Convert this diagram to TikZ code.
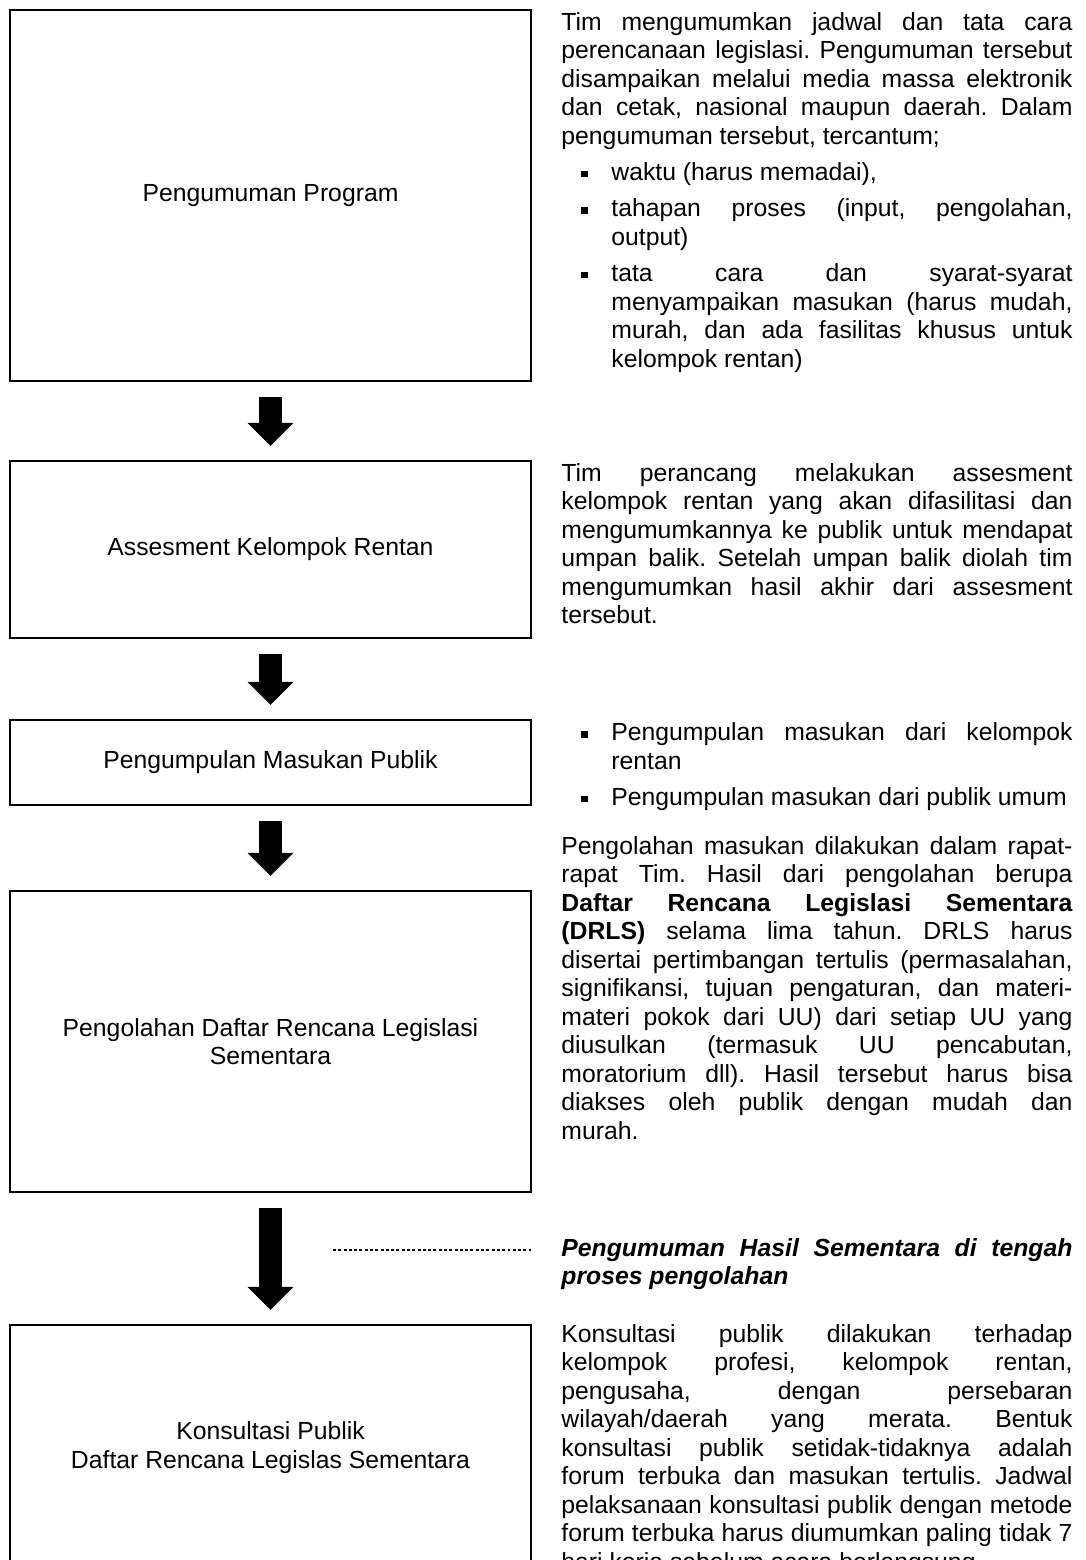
\documentclass[tikz,border=0pt]{standalone}
\usepackage{fontspec}
\setmainfont{Liberation Sans}
\usetikzlibrary{arrows.meta}

\newcommand{\isi}{\fontsize{11pt}{12.65pt}\selectfont\frenchspacing}
\newcommand{\aturpar}{\parindent=0pt\tolerance=9999\hbadness=10000\hyphenpenalty=10000\exhyphenpenalty=10000}
\newcommand{\butir}[1]{\par\vspace{3.5pt}{\leftskip=22.2pt\noindent\llap{\raisebox{1.5pt}{\rule{2.8pt}{2.8pt}}\hspace{10.5pt}}\strut#1\par}}

\begin{document}
\begin{tikzpicture}[x = 0.4444pt, y = -0.4444pt,
        kotak/.style = {draw, line width = 1.1pt, minimum width = 231.5pt, inner sep = 0pt, align = center, font = \isi},
        teks/.style = {anchor = north west, inner sep = 0pt, text width = 227.1pt, align = justify, font = \isi\aturpar},
        panah/.style = {line width = 9.8pt, -{Triangle[width = 20.4pt, length = 10.2pt, line width = 0pt]}, shorten <= 6.7pt, shorten >= 6.2pt},
        garistitik/.style = {line width = 1.1pt, dash pattern = on 1.3pt off 1.05pt}]
        \useasboundingbox (0, 0) rectangle (1085, 1560);
        \clip (0, 0) rectangle (1085, 1560);
        \node [kotak, minimum height = 164.9pt] (b1) at (270.5, 195.5) {Pengumuman Program};
        \node [kotak, minimum height = 78.7pt] (b2) at (270.5, 549.5) {Assesment Kelompok Rentan};
        \node [kotak, minimum height = 37.8pt] (b3) at (270.5, 762.5) {Pengumpulan Masukan Publik};
        \node [kotak, minimum height = 133.8pt] (b4) at (270.5, 1041.5) {Pengolahan Daftar Rencana Legislasi\\Sementara};
        \node [kotak, minimum height = 108.9pt] (b5) at (270.5, 1447.5) {Konsultasi Publik\\Daftar Rencana Legislas Sementara};
        \draw [panah] (b1) -- (b2);
        \draw [panah] (b2) -- (b3);
        \draw [panah] (b3) -- (b4);
        \draw [panah] (b4) -- (b5);
        \coordinate (titikA) at (333, 1250);
        \coordinate (titikB) at (531, 1250);
        \draw [garistitik] (titikA) -- (titikB);
        \node [teks] (p1) at (561, 10) {\strut Tim mengumumkan jadwal dan tata cara\linebreak perencanaan legislasi. Pengumuman tersebut\linebreak disampaikan melalui media massa elektronik\linebreak dan cetak, nasional maupun daerah. Dalam\linebreak pengumuman tersebut, tercantum;
            \butir{waktu (harus memadai),}
            \butir{tahapan proses (input, pengolahan,\linebreak output)}
            \butir{tata cara dan syarat-syarat\linebreak menyampaikan masukan (harus mudah,\linebreak murah, dan ada fasilitas khusus untuk\linebreak kelompok rentan)}};
        \node [teks] (p2) at (561, 461) {\strut Tim perancang melakukan assesment\linebreak kelompok rentan yang akan difasilitasi dan\linebreak mengumumkannya ke publik untuk mendapat\linebreak umpan balik. Setelah umpan balik diolah tim\linebreak mengumumkan hasil akhir dari assesment\linebreak tersebut.};
        \node [teks] (p3) at (561, 712) {\vspace{-3.5pt}
            \butir{Pengumpulan masukan dari kelompok\linebreak rentan}
            \butir{Pengumpulan masukan dari publik umum}};
        \node [teks] (p4) at (561, 834) {\strut Pengolahan masukan dilakukan dalam rapat-\linebreak rapat Tim. Hasil dari pengolahan berupa\linebreak \textbf{Daftar Rencana Legislasi Sementara\linebreak (DRLS)} selama lima tahun. DRLS harus\linebreak disertai pertimbangan tertulis (permasalahan,\linebreak signifikansi, tujuan pengaturan, dan materi-\linebreak materi pokok dari UU) dari setiap UU yang\linebreak diusulkan (termasuk UU pencabutan,\linebreak moratorium dll). Hasil tersebut harus bisa\linebreak diakses oleh publik dengan mudah dan\linebreak murah.};
        \node [teks] (catatan) at (561, 1236) {\strut\textbf{\textit{Pengumuman Hasil Sementara di tengah\linebreak proses pengolahan}}};
        \node [teks] (p6) at (561, 1322) {\strut Konsultasi publik dilakukan terhadap\linebreak kelompok profesi, kelompok rentan,\linebreak pengusaha, dengan persebaran\linebreak wilayah/daerah yang merata. Bentuk\linebreak konsultasi publik setidak-tidaknya adalah\linebreak forum terbuka dan masukan tertulis. Jadwal\linebreak pelaksanaan konsultasi publik dengan metode\linebreak forum terbuka harus diumumkan paling tidak 7\linebreak hari kerja sebelum acara berlangsung.};
    \end{tikzpicture}
\end{document}
